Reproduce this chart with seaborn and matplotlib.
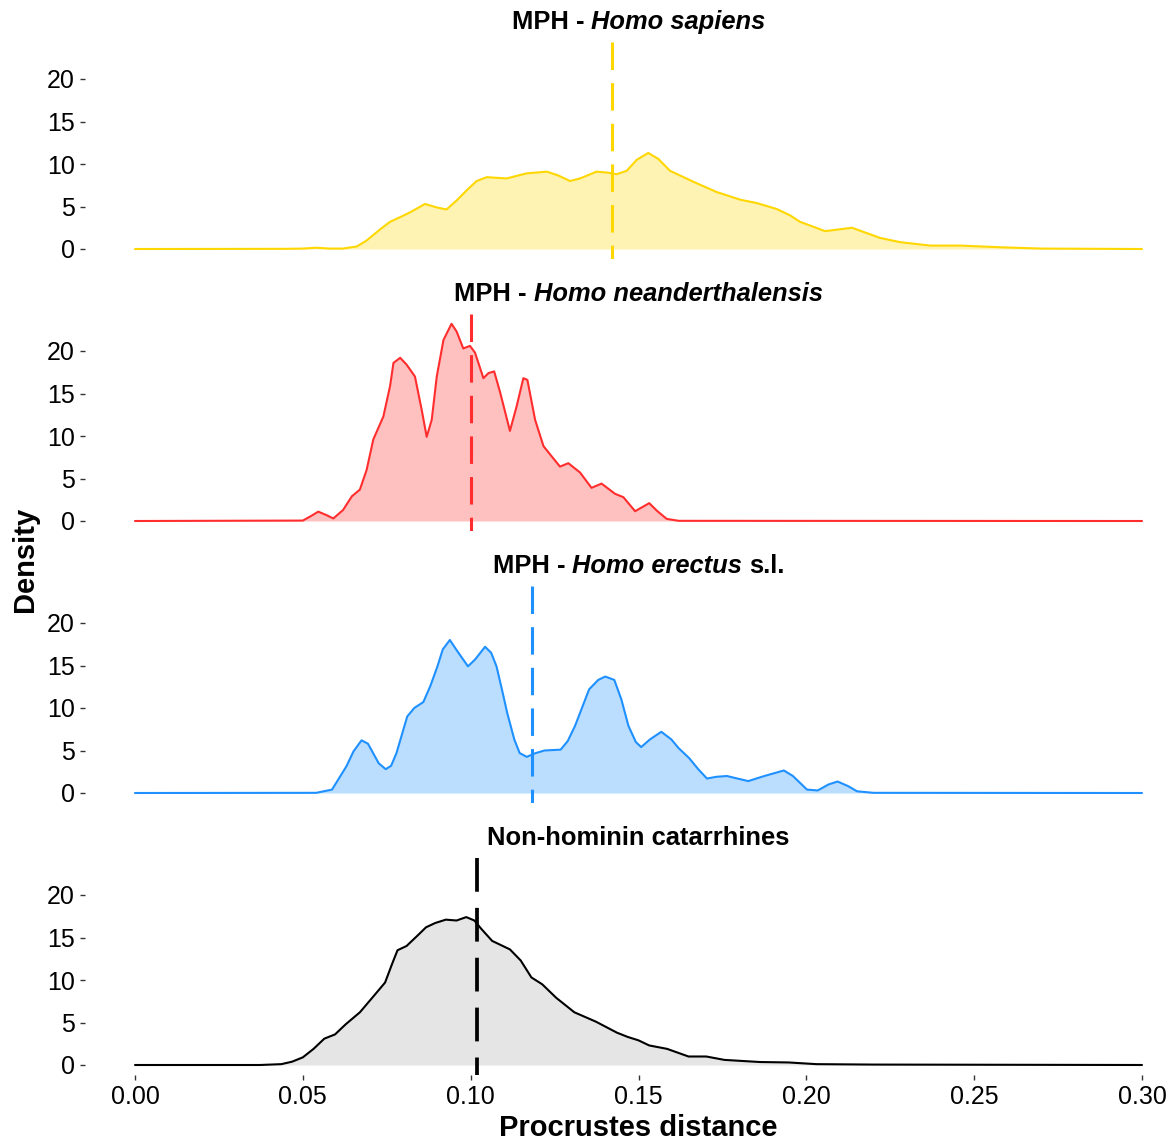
import matplotlib
matplotlib.use("Agg")
import matplotlib.pyplot as plt
import seaborn as sns
import pandas as pd

# ---------------- data ----------------
sapiens_x = [0, 0.045, 0.05, 0.054, 0.058, 0.062, 0.0661, 0.0690, 0.0730, 0.0760, 0.0790, 0.0819,
             0.0864, 0.0898, 0.0928, 0.0958, 0.0988, 0.1018, 0.1048, 0.1107, 0.1167, 0.1227,
             0.1261, 0.1296, 0.1326, 0.1375, 0.1405, 0.1435, 0.1465, 0.1495, 0.1529, 0.1559,
             0.1594, 0.1664, 0.1733, 0.1803, 0.1853, 0.1912, 0.1952, 0.1981, 0.2056, 0.2136,
             0.222, 0.228, 0.237, 0.246, 0.258, 0.27, 0.30]
sapiens_y = [0, 0.02, 0.05, 0.15, 0.05, 0.05, 0.3, 1.0, 2.3, 3.2, 3.75, 4.3,
             5.3, 4.9, 4.65, 5.7, 6.9, 8.0, 8.45, 8.3, 8.9, 9.1,
             8.65, 8.0, 8.3, 9.1, 9.0, 8.8, 9.2, 10.5, 11.3, 10.6,
             9.2, 7.9, 6.7, 5.8, 5.4, 4.7, 3.95, 3.2, 2.1, 2.5,
             1.3, 0.8, 0.4, 0.4, 0.2, 0.05, 0.0]

neander_x = [0, 0.05, 0.0525, 0.0546, 0.057, 0.0591, 0.062, 0.0646, 0.067, 0.069, 0.071, 0.074,
             0.0760, 0.0770, 0.0790, 0.0809, 0.0834, 0.0854, 0.0869, 0.0884, 0.0899, 0.0919,
             0.0943, 0.0958, 0.0978, 0.0998, 0.1013, 0.1038, 0.1053, 0.1070, 0.1088, 0.1117,
             0.1137, 0.1157, 0.1169, 0.1192, 0.1217, 0.1266, 0.1291, 0.1326, 0.136, 0.139,
             0.143, 0.1455, 0.149, 0.1532, 0.1555, 0.1584, 0.162, 0.30]
neander_y = [0, 0.05, 0.6, 1.1, 0.7, 0.3, 1.3, 2.9, 3.7, 6.0, 9.6, 12.3,
             15.9, 18.6, 19.2, 18.4, 17.0, 13.1, 9.9, 11.9, 17.0, 21.3,
             23.2, 22.3, 20.3, 20.6, 19.8, 16.8, 17.4, 17.6, 15.1, 10.6,
             13.5, 16.8, 16.6, 11.9, 8.8, 6.4, 6.8, 5.7, 3.9, 4.4,
             3.2, 2.8, 1.15, 2.1, 1.2, 0.25, 0.02, 0]

erectus_x = [0, 0.054, 0.0587, 0.0630, 0.0651, 0.0675, 0.0694, 0.0726, 0.0747, 0.0763, 0.0779,
             0.0811, 0.0832, 0.0859, 0.0880, 0.0901, 0.0917, 0.0938, 0.0960, 0.0992, 0.1013,
             0.1043, 0.1061, 0.1077, 0.1093, 0.1109, 0.1130, 0.1146, 0.1167, 0.1194, 0.1220,
             0.1268, 0.1289, 0.1311, 0.1353, 0.1380, 0.1401, 0.1428, 0.1449, 0.1470, 0.1492,
             0.1508, 0.1534, 0.1568, 0.1598, 0.1619, 0.1651, 0.1678, 0.1704, 0.1731, 0.1763,
             0.1795, 0.1827, 0.1875, 0.1933, 0.1960, 0.2002, 0.2034, 0.2066, 0.2093, 0.2125,
             0.2151, 0.22, 0.30]
erectus_y = [0, 0.02, 0.4, 3.15, 4.9, 6.2, 5.8, 3.5, 2.8, 3.2, 4.7,
             9.0, 10.0, 10.7, 12.6, 14.9, 16.9, 18.0, 16.7, 14.9, 15.7,
             17.2, 16.5, 14.9, 12.2, 9.4, 6.3, 4.7, 4.25, 4.7, 5.0,
             5.1, 6.1, 7.9, 12.2, 13.3, 13.7, 13.3, 11.0, 7.9, 6.0,
             5.4, 6.3, 7.2, 6.3, 5.3, 4.1, 2.8, 1.7, 1.9, 2.0,
             1.7, 1.4, 2.0, 2.65, 2.0, 0.4, 0.3, 1.0, 1.35, 0.8,
             0.2, 0.02, 0]

catarr_x = [0, 0.0372, 0.0436, 0.0468, 0.0500, 0.0532, 0.0564, 0.0596, 0.0628, 0.0670, 0.0713,
            0.0745, 0.0766, 0.0782, 0.0809, 0.0841, 0.0867, 0.0894, 0.0926, 0.0958, 0.0987,
            0.1011, 0.1032, 0.1064, 0.1117, 0.1149, 0.1181, 0.1213, 0.1255, 0.1309, 0.1373,
            0.1436, 0.1468, 0.1500, 0.1532, 0.1585, 0.1649, 0.1702, 0.1756, 0.1862, 0.1947,
            0.203, 0.22, 0.30]
catarr_y = [0, 0.0, 0.1, 0.39, 0.9, 1.9, 3.1, 3.6, 4.8, 6.2, 8.2,
            9.7, 11.9, 13.5, 14.0, 15.2, 16.2, 16.7, 17.1, 17.0, 17.4,
            17.0, 16.0, 14.6, 13.6, 12.3, 10.3, 9.5, 7.9, 6.2, 5.1,
            3.8, 3.3, 2.9, 2.3, 1.9, 1.0, 1.0, 0.6, 0.35, 0.3,
            0.1, 0.05, 0]

mean_values = [0.1421, 0.1000, 0.1183, 0.1018]

title_parts = [
    [("MPH -", "normal"), ("Homo sapiens", "italic")],
    [("MPH -", "normal"), ("Homo neanderthalensis", "italic")],
    [("MPH -", "normal"), ("Homo erectus", "italic"), ("s.l.", "normal")],
    [("Non-hominin catarrhines", "normal")],
]

x_ticks = [0.00, 0.05, 0.10, 0.15, 0.20, 0.25, 0.30]
x_tick_labels = ["0.00", "0.05", "0.10", "0.15", "0.20", "0.25", "0.30"]
y_ticks = [0, 5, 10, 15, 20]
y_tick_labels = ["0", "5", "10", "15", "20"]

# ---------------- style ----------------
sns.set_theme(style="white")
plt.rcParams['font.family'] = ['Liberation Sans', 'DejaVu Sans']
plt.rcParams['text.color'] = 'black'

line_colors = ["#FFD700", "#FF2D2D", "#1E90FF", "#000000"]
fill_colors = ["#FFF3B3", "#FFC0C0", "#BBDEFF", "#E5E5E5"]
vline_widths = [2.2, 2.2, 2.2, 2.7]

series = [(sapiens_x, sapiens_y), (neander_x, neander_y),
          (erectus_x, erectus_y), (catarr_x, catarr_y)]

W, H = 1176, 1145
fig = plt.figure(figsize=(W / 100, H / 100), dpi=100)

left_px, right_px = 85, 1176
x0_px = 135
px_per_unit_x = 1007 / 0.30
xlim = ((left_px - x0_px) / px_per_unit_x, (right_px - x0_px) / px_per_unit_x)
ylim = (-10 / 8.5, 207 / 8.5)

for k in range(4):
    top = 42 + 272 * k
    bot = 259 + 272 * k
    ax = fig.add_axes([left_px / W, 1 - bot / H, (right_px - left_px) / W, (bot - top) / H])
    xs, ys = series[k]
    df = pd.DataFrame({"x": xs, "y": ys})
    ax.fill_between(df["x"], 0, df["y"], color=fill_colors[k], lw=0, zorder=1)
    sns.lineplot(data=df, x="x", y="y", ax=ax, color=line_colors[k], lw=1.5,
                 estimator=None, sort=False, zorder=2)
    for ln in ax.lines:
        ln.set_solid_joinstyle("round")
    ax.plot([mean_values[k], mean_values[k]], [1, 0], transform=ax.get_xaxis_transform(),
            color=line_colors[k], lw=vline_widths[k], linestyle=(0, (9, 4.3)),
            dash_capstyle="butt", zorder=3)
    ax.set_xlim(*xlim)
    ax.set_ylim(*ylim)
    ax.set_yticks(y_ticks)
    ax.set_yticklabels(y_tick_labels)
    for s in ax.spines.values():
        s.set_visible(False)
    ax.set_xlabel("")
    ax.set_ylabel("")
    ax.tick_params(axis="y", left=True, length=3.5, width=1, color="#333333",
                   labelsize=18, labelcolor="black", pad=4)
    if k < 3:
        ax.set_xticks([])
    else:
        ax.set_xticks(x_ticks)
        ax.set_xticklabels(x_tick_labels)
        ax.tick_params(axis="x", bottom=True, length=3.5, width=1, color="#333333",
                       labelsize=18, labelcolor="black", pad=4)
    ax.set_facecolor("white")

# ---------------- titles (mixed bold / bold-italic) ----------------
title_size = 18.4
fig.canvas.draw()
renderer = fig.canvas.get_renderer()
space_px = 0.278 * title_size * 100 / 72
for k in range(4):
    yc = 1 - (22 + 272 * k) / H
    xc_px = x0_px + 0.15 * px_per_unit_x
    texts = []
    for txt, style in title_parts[k]:
        t = fig.text(0, yc, txt, fontsize=title_size, fontweight="bold", fontstyle=style,
                     ha="left", va="center", color="black")
        texts.append(t)
    widths = [t.get_window_extent(renderer).width for t in texts]
    total = sum(widths) + space_px * (len(texts) - 1)
    cur = xc_px - total / 2
    for t, w in zip(texts, widths):
        t.set_x(cur / W)
        cur += w + space_px

# ---------------- axis titles ----------------
fig.text(x0_px / W + 0.15 * px_per_unit_x / W, 1 - 1128 / H, "Procrustes distance",
         fontsize=21, fontweight="bold", ha="center", va="center", color="black")
fig.text(25 / W, 1 - 559 / H, "Density", fontsize=21, fontweight="bold",
         rotation=90, ha="center", va="center", color="black")

fig.savefig("out.png", dpi=100, facecolor="white")
